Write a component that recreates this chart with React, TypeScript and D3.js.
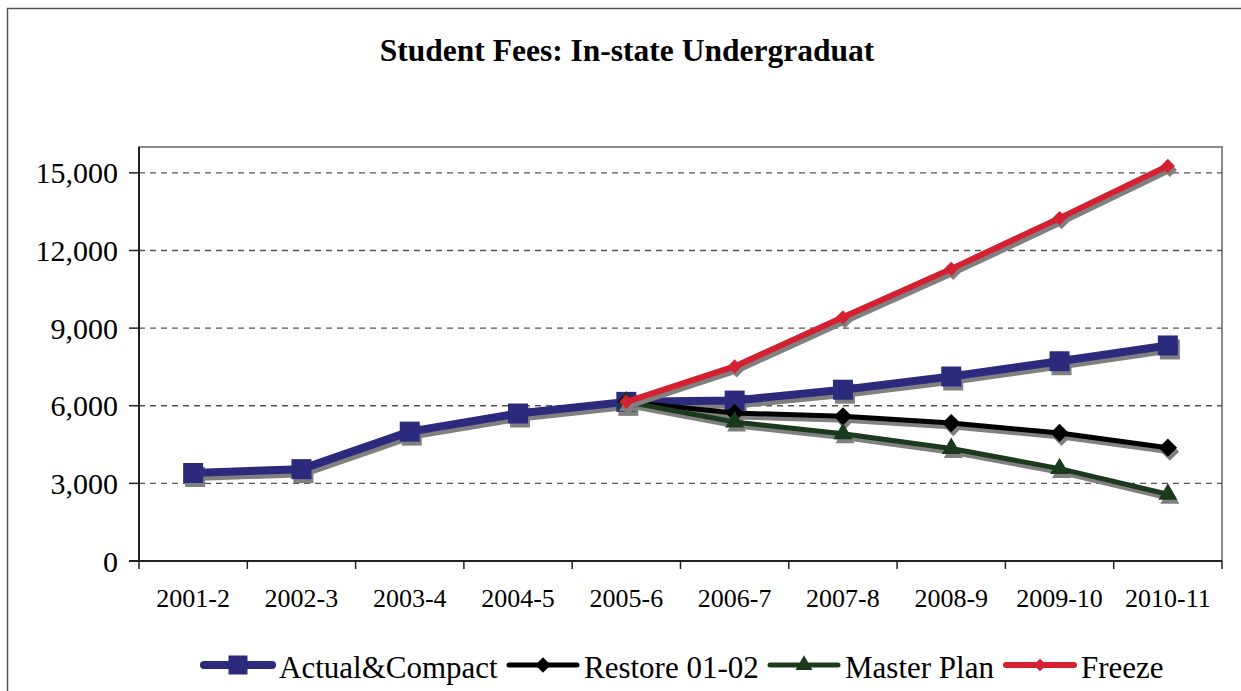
import * as d3 from "d3";

// chart data
const years = ["2001-2", "2002-3", "2003-4", "2004-5", "2005-6", "2006-7", "2007-8", "2008-9", "2009-10", "2010-11"];
const actualCompact = [3400, 3550, 5000, 5700, 6150, 6200, 6620, 7130, 7720, 8330];
const restore0102 = [null, null, null, null, 6150, 5720, 5590, 5330, 4950, 4380];
const masterPlan = [null, null, null, null, 6150, 5370, 4920, 4350, 3570, 2580];
const freeze = [null, null, null, null, 6150, 7520, 9420, 11290, 13250, 15270];
const yTicks = [0, 3000, 6000, 9000, 12000, 15000];

type Series = {
  name: string;
  values: (number | null)[];
  color: string;
  width: number;
  marker: "square" | "diamond" | "triangle";
  size: number;
  legendSize: number;
};

const series: Series[] = [
  { name: "Actual&Compact", values: actualCompact, color: "#2b2a7c", width: 8, marker: "square", size: 20, legendSize: 19 },
  { name: "Restore 01-02", values: restore0102, color: "#000000", width: 5, marker: "diamond", size: 13, legendSize: 11 },
  { name: "Master Plan", values: masterPlan, color: "#1a3a1c", width: 5, marker: "triangle", size: 19, legendSize: 17 },
  { name: "Freeze", values: freeze, color: "#d42030", width: 6, marker: "diamond", size: 10, legendSize: 9 },
];

const W = 1241;
const H = 691;
const plot = { left: 139, right: 1222, top: 147, bottom: 561 };
const font = "'Liberation Serif', 'Times New Roman', serif";
const shadow = { dx: 2, dy: 4, color: "#808080" };
const legendX = [204, 509, 770, 1006];

function markerPath(kind: Series["marker"], s: number) {
  if (kind === "square") return d3.symbol(d3.symbolSquare, s * s)()!;
  if (kind === "triangle") return d3.symbol(d3.symbolTriangle, (s * s * Math.sqrt(3)) / 4)()!;
  // diamond = rotated square
  const h = (s / 2) * Math.SQRT2;
  return `M0,${-h}L${h},0L0,${h}L${-h},0Z`;
}

export default function App() {
  const x = d3.scaleBand<string>().domain(years).range([plot.left, plot.right]);
  const y = d3.scaleLinear().domain([0, 16000]).range([plot.bottom, plot.top]);
  const cx = (i: number) => x(years[i])! + x.bandwidth() / 2;

  const line = d3
    .line<number | null>()
    .defined((d) => d != null)
    .x((_, i) => cx(i))
    .y((d) => y(d as number));

  const renderSeries = (s: Series, dx: number, dy: number, color: string, key: string) => (
    <g key={key} transform={`translate(${dx},${dy})`}>
      <path d={line(s.values) ?? ""} fill="none" stroke={color} strokeWidth={s.width} strokeLinejoin="round" />
      {s.values.map((v, i) =>
        v == null ? null : (
          <path key={i} d={markerPath(s.marker, s.size)} transform={`translate(${cx(i)},${y(v)})`} fill={color} />
        )
      )}
    </g>
  );

  return (
    <div style={{ position: "absolute", left: 0, top: 0 }}>
      <svg width={W} height={H} style={{ display: "block", background: "#fff" }}>
        <rect x={7.5} y={8.5} width={W + 20} height={H + 20} fill="none" stroke="#555" strokeWidth={1.5} />

        <text x={627} y={61} textAnchor="middle" fontFamily={font} fontWeight="bold" fontSize={31.5}>
          Student Fees: In-state Undergraduat
        </text>

        {/* plot frame */}
        <rect x={plot.left} y={plot.top} width={plot.right - plot.left} height={plot.bottom - plot.top} fill="none" stroke="#8a8a8a" strokeWidth={2} />

        {/* gridlines */}
        {yTicks.filter((t) => t > 0).map((t) => (
          <line key={t} x1={plot.left} x2={plot.right} y1={y(t)} y2={y(t)} stroke="#555" strokeWidth={1.3} strokeDasharray="6,5" />
        ))}

        {/* y axis */}
        <line x1={plot.left} x2={plot.left} y1={plot.top} y2={plot.bottom} stroke="#222" strokeWidth={2} />
        {yTicks.map((t) => (
          <g key={t}>
            <line x1={plot.left - 10} x2={plot.left} y1={y(t)} y2={y(t)} stroke="#222" strokeWidth={1.5} />
            <text x={118} y={y(t)} dy="0.35em" textAnchor="end" fontFamily={font} fontSize={30}>
              {d3.format(",")(t)}
            </text>
          </g>
        ))}

        {/* x axis */}
        <line x1={plot.left - 10} x2={plot.right} y1={plot.bottom} y2={plot.bottom} stroke="#222" strokeWidth={2} />
        {[...years.map((yr) => x(yr)!), plot.right].map((px, i) => (
          <line key={i} x1={px} x2={px} y1={plot.bottom} y2={plot.bottom + 8} stroke="#222" strokeWidth={1.5} />
        ))}
        {years.map((yr, i) => (
          <text key={yr} x={cx(i)} y={607} textAnchor="middle" fontFamily={font} fontSize={26}>
            {yr}
          </text>
        ))}

        {/* series with shadows */}
        {series.map((s, k) => (
          <g key={s.name}>
            {renderSeries(s, shadow.dx, shadow.dy, shadow.color, `sh${k}`)}
            {renderSeries(s, 0, 0, s.color, `ln${k}`)}
          </g>
        ))}

        {/* legend */}
        {series.map((s, k) => {
          const lx = legendX[k];
          const ly = 665;
          return (
            <g key={s.name}>
              <line x1={lx} x2={lx + 68} y1={ly} y2={ly} stroke={s.color} strokeWidth={s.width} strokeLinecap="round" />
              <path d={markerPath(s.marker, s.legendSize)} transform={`translate(${lx + 34},${ly})`} fill={s.color} />
              <text x={lx + 75} y={678} fontFamily={font} fontSize={31}>
                {s.name}
              </text>
            </g>
          );
        })}
      </svg>
    </div>
  );
}
